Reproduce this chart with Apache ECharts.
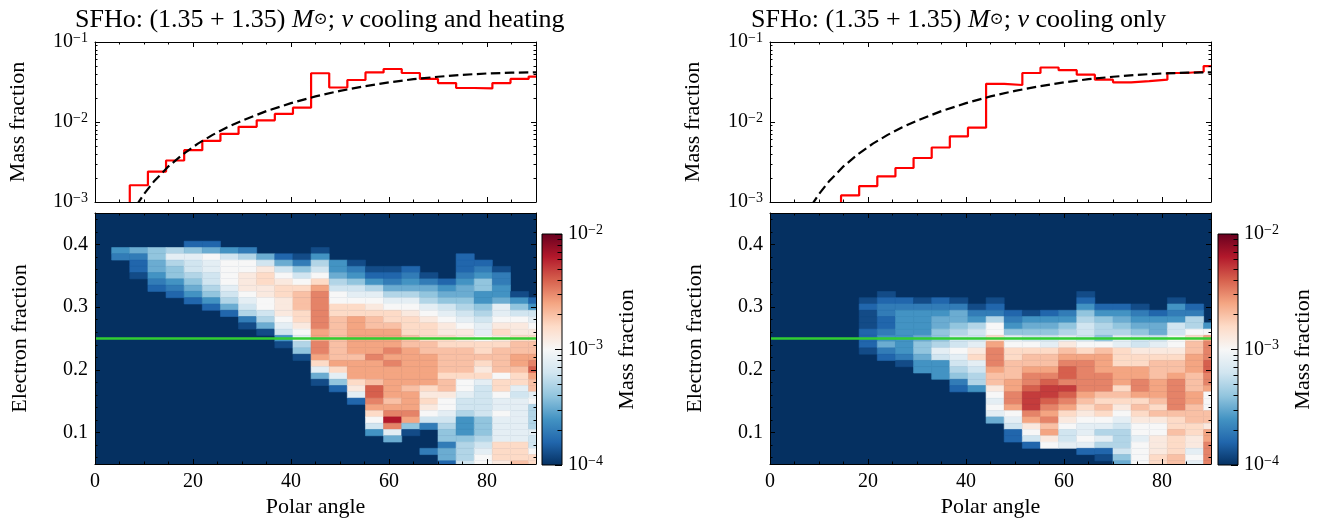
<!DOCTYPE html>
<html><head><meta charset="utf-8">
<script src="https://cdn.jsdelivr.net/npm/echarts@6.0.0/dist/echarts.min.js"></script>
<style>html,body{margin:0;padding:0;background:#fff}#c{width:1332px;height:523px}</style>
</head><body><div id="c"></div>
<script>
// ---------------- data ----------------
// polar-angle bin edges (deg), shared by the histograms and the 2D maps
const polarEdges = [0, 3.4, 7.1, 10.8, 14.5, 18.2, 21.9, 25.6, 29.3, 33.0, 36.7, 40.4, 44.1, 47.8, 51.5, 55.2, 58.9, 62.6, 66.3, 70.0, 73.7, 77.4, 81.1, 84.8, 88.5, 90];
// electron-fraction bin edges, top (0.455) to bottom (0.045)
const yeEdges = [0.455, 0.445, 0.435, 0.425, 0.415, 0.405, 0.395, 0.385, 0.375, 0.365, 0.355, 0.345, 0.335, 0.325, 0.315, 0.305, 0.295, 0.285, 0.275, 0.265, 0.255, 0.245, 0.235, 0.225, 0.215, 0.205, 0.195, 0.185, 0.175, 0.165, 0.155, 0.145, 0.135, 0.125, 0.115, 0.105, 0.095, 0.085, 0.075, 0.065, 0.055, 0.045];
// mass fraction per polar bin (step histograms)
const histHeating = [null, 7e-4, 1.62e-3, 2.4e-3, 3.3e-3, 4.45e-3, 5.8e-3, 7.1e-3, 8.7e-3, 1.05e-2, 1.26e-2, 1.51e-2, 4.07e-2, 2.7e-2, 3.35e-2, 4.17e-2, 4.6e-2, 4.1e-2, 3.45e-2, 3.07e-2, 2.66e-2, 2.63e-2, 3.07e-2, 3.45e-2, 3.7e-2];
const histCooling = [null, null, null, 6e-4, 1.21e-3, 1.58e-3, 2.09e-3, 2.66e-3, 3.55e-3, 4.8e-3, 6.6e-3, 8.5e-3, 3.0e-2, 2.9e-2, 4.1e-2, 4.8e-2, 4.45e-2, 3.9e-2, 3.38e-2, 3.13e-2, 3.25e-2, 3.38e-2, 4.1e-2, 4.25e-2, 5.0e-2];
// dashed reference curve
const refAngles = [8.5, 9, 10, 12, 15, 18, 21, 24, 27, 30, 35, 40, 45, 50, 55, 60, 65, 70, 75, 80, 85, 90];
const refMassFraction = [9.1e-4, 1.02e-3, 1.26e-3, 1.80e-3, 2.79e-3, 3.98e-3, 5.36e-3, 6.90e-3, 8.59e-3, 1.04e-2, 1.37e-2, 1.72e-2, 2.09e-2, 2.45e-2, 2.80e-2, 3.13e-2, 3.43e-2, 3.68e-2, 3.89e-2, 4.04e-2, 4.14e-2, 4.17e-2];
const refYe = 0.25;
// 2D mass-fraction maps: one string per polar bin, one char per Ye bin (Ye 0.45 first -> 0.05 last,
// spaces only group the chars by ten). Char index L in levelCodes: log10(mass fraction) = -4 + 0.1*L ; '0' = below 1e-4
const levelCodes = "0123456789ABCDEFGHIJK";
const mapHeating = [
 "0000000000 0000000000 0000000000 0000000000 0",
 "0000004300 0000000000 0000000000 0000000000 0",
 "0000005322 1000000000 0000000000 0000000000 0",
 "0000006655 4320000000 0000000000 0000000000 0",
 "0000007976 6432000000 0000000000 0000000000 0",
 "0000026988 7654200000 0000000000 0000000000 0",
 "0000025A99 8876420000 0000000000 0000000000 0",
 "00000048AA AA98752000 0000000000 0000000000 0",
 "00000037AA BBBA987310 0000000000 0000000000 0",
 "000000058B CCBBAA8751 0000000000 0000000000 0",
 "0000000258 ABCCBBBA98 4100000000 0000000000 0",
 "0000000136 8ACDDDCCBA 9761000000 0000000000 0",
 "0000001478 ACEFFFFFFE EFFEC95100 0000000000 0",
 "0000000044 578AACCDDD DDDDEC9620 0000000000 0",
 "0000000013 4689ACCEEE EEEDEEECB9 2000000000 0",
 "0000000001 2479ABCDDE EEEFEEEDGG FECA840000 0",
 "0000000001 23579ACCDE EEFEFEEEEE DEFIF95000 0",
 "0000000002 34579ABCCC DDEEEEEEDE EEFE610000 0",
 "0000000000 135679ABCC CDDEEEEECB CBA8300030 0",
 "0000000000 0245689ABB CCDDDDCDDB AA98766355 2",
 "0000000222 34556789AB BCDDDDCAA9 8874446777 8",
 "0000000023 4664467899 ACCDCBC988 888666789A A",
 "0000000001 3344599ABC BCDDDDACCA 99A9999CCC B",
 "0000000000 0001468ABB CDDEEDCC98 9999999CCC D",
 "0000000000 00002489AB CDDEFGEDD9 A7777988AC C"
];
const mapCooling = [
 "0000000000 0000000000 0000000000 0000000000 0",
 "0000000000 0000000000 0000000000 0000000000 0",
 "0000000000 0000000000 0000000000 0000000000 0",
 "0000000000 0000000000 0000000000 0000000000 0",
 "0000000000 0000000000 0000000000 0000000000 0",
 "0000000000 0000121112 2210000000 0000000000 0",
 "0000000000 0001233223 4532000000 0000000000 0",
 "0000000000 0000234444 4443100000 0000000000 0",
 "0000000000 0000134444 5665440000 0000000000 0",
 "0000000000 0000234556 6798444000 0000000000 0",
 "0000000000 0000135567 88A9876320 0000000000 0",
 "0000000000 0000013478 89BC987740 0000000000 0",
 "0000000000 00001237AA CEFFFEDDBA 9A95000000 0",
 "0000000000 0000002346 9ACCDDDEEF FEA9822000 0",
 "0000000000 0000001456 8ACDDEFFGH HHFEBA8200 0",
 "0000000000 0000002456 89CDDEFGHH GFEFDEBA00 0",
 "0000000000 0000003467 9BDEFGGFHG FECBA88900 0",
 "0000000000 0001246788 8ACEFFFFFE DCBA99A920 0",
 "0000000000 0000024677 6ADEEEFFFD CDCA979721 0",
 "0000000000 0000024567 99CCCEEECD CBA9877786 5",
 "0000000000 0000013456 88BCCEEFFE CDCBAA9AAA A",
 "0000000000 0000002455 89BCDDDEEE DCDBAABBBC C",
 "0000000000 0000143488 AABCDDEFFF FFDCCDCCCD D",
 "0000000000 000002377A CDDEEEDDDE EDDDCCBB9A 9",
 "0000000000 000000004A EFFFGGFFEA AADDBEEFFF F"
];
// axis ticks
const angleMajorTicks = [0, 20, 40, 60, 80];
const angleMinorTicks = [5, 10, 15, 25, 30, 35, 45, 50, 55, 65, 70, 75, 85];
const yeRange = [0.05, 0.45];
const yeMajorTicks = [0.1, 0.2, 0.3, 0.4];
const yeMinorTicks = [0.06, 0.08, 0.12, 0.14, 0.16, 0.18, 0.22, 0.24, 0.26, 0.28, 0.32, 0.34, 0.36, 0.38, 0.42, 0.44];
const massRange = [1e-3, 1e-1];
const massMinorTicks = [2e-3, 3e-3, 4e-3, 5e-3, 6e-3, 7e-3, 8e-3, 9e-3, 2e-2, 3e-2, 4e-2, 5e-2, 6e-2, 7e-2, 8e-2, 9e-2];
const cbarRange = [1e-4, 1e-2];
const cbarMajorTicks = [1e-4, 1e-3, 1e-2];
const cbarMinorTicks = [2e-4, 3e-4, 4e-4, 5e-4, 6e-4, 7e-4, 8e-4, 9e-4, 2e-3, 3e-3, 4e-3, 5e-3, 6e-3, 7e-3, 8e-3, 9e-3];
const rdbuR = ['#053061', '#2166ac', '#4393c3', '#92c5de', '#d1e5f0', '#f7f7f7', '#fddbc7', '#f4a582', '#d6604d', '#b2182b', '#67001f'];
const titles = ['cooling and heating', 'cooling only'];

// ---------------- chart ----------------
const FONT = "'Liberation Serif', 'DejaVu Serif', serif";
const BLACK = '#000';
const TICKFS = 20, NAMEFS = 22;
const POW_RICH = {
  b: {fontSize: TICKFS, lineHeight: 22, fontFamily: FONT, color: BLACK},
  s: {fontSize: 14, lineHeight: 13, verticalAlign: 'top', fontFamily: FONT, color: BLACK}
};
const powLabel = v => '{b|10}{s|\u2212' + Math.abs(Math.round(Math.log10(v))) + '}';
const lg = Math.log10;

const gridBoxes = [
  {left: 95, top: 42, width: 441, height: 160},
  {left: 95, top: 213, width: 441, height: 251},
  {left: 542, top: 234, width: 20, height: 231},
  {left: 770, top: 42, width: 441, height: 160},
  {left: 770, top: 213, width: 441, height: 251},
  {left: 1218, top: 234, width: 20, height: 231}
];
const grid = gridBoxes.map((g, i) => Object.assign({}, g, (i === 1 || i === 4) ?
  {show: true, backgroundColor: rdbuR[0], borderWidth: 0} : {show: false}));

const xAxis = [], yAxis = [];
function tick(values, len) {
  const t = {show: true, inside: true, length: len, lineStyle: {color: BLACK, width: 1}};
  if (values) t.customValues = values;
  return t;
}
function ax(list, o) { list.push(Object.assign({z: 10, splitLine: {show: false}, axisLine: {show: false, onZero: false}, axisLabel: {show: false}}, o)); return list.length - 1; }
const frameLine = {show: true, onZero: false, lineStyle: {color: BLACK, width: 1}};
const nameStyle = {color: BLACK, fontFamily: FONT, fontSize: NAMEFS};

function angleAxes(gi, withLabels) {
  const lo = polarEdges[0], hi = polarEdges[polarEdges.length - 1];
  const main = ax(xAxis, {type: 'value', gridIndex: gi, position: 'bottom', min: lo, max: hi,
    axisLine: frameLine, axisTick: tick(angleMajorTicks, 5),
    axisLabel: withLabels ? {show: true, customValues: angleMajorTicks, margin: 8, color: BLACK, fontFamily: FONT, fontSize: TICKFS} : {show: false},
    name: withLabels ? 'Polar angle' : '', nameLocation: 'middle', nameGap: 32, nameTextStyle: nameStyle});
  ax(xAxis, {type: 'value', gridIndex: gi, position: 'bottom', min: lo, max: hi, axisTick: tick(angleMinorTicks, 2.5)});
  ax(xAxis, {type: 'value', gridIndex: gi, position: 'top', min: lo, max: hi, axisLine: frameLine, axisTick: tick(angleMajorTicks, 5)});
  ax(xAxis, {type: 'value', gridIndex: gi, position: 'top', min: lo, max: hi, axisTick: tick(angleMinorTicks, 2.5)});
  return main;
}
function massAxes(gi) {
  const main = ax(yAxis, {type: 'log', logBase: 10, gridIndex: gi, position: 'left', min: massRange[0], max: massRange[1],
    axisLine: frameLine, axisTick: tick(null, 5),
    axisLabel: {show: true, margin: 7, showMinLabel: true, showMaxLabel: true, formatter: powLabel, rich: POW_RICH},
    name: 'Mass fraction', nameLocation: 'middle', nameRotate: 90, nameGap: 66, nameTextStyle: nameStyle});
  ax(yAxis, {type: 'value', gridIndex: gi, position: 'left', min: lg(massRange[0]), max: lg(massRange[1]), axisTick: tick(massMinorTicks.map(lg), 2.5)});
  ax(yAxis, {type: 'log', logBase: 10, gridIndex: gi, position: 'right', min: massRange[0], max: massRange[1], axisLine: frameLine, axisTick: tick(null, 5)});
  ax(yAxis, {type: 'value', gridIndex: gi, position: 'right', min: lg(massRange[0]), max: lg(massRange[1]), axisTick: tick(massMinorTicks.map(lg), 2.5)});
  return main;
}
function yeAxes(gi) {
  const main = ax(yAxis, {type: 'value', gridIndex: gi, position: 'left', min: yeRange[0], max: yeRange[1],
    axisLine: frameLine, axisTick: tick(yeMajorTicks, 5),
    axisLabel: {show: true, customValues: yeMajorTicks, margin: 7, formatter: v => v.toFixed(1), color: BLACK, fontFamily: FONT, fontSize: TICKFS},
    name: 'Electron fraction', nameLocation: 'middle', nameRotate: 90, nameGap: 64, nameTextStyle: nameStyle});
  ax(yAxis, {type: 'value', gridIndex: gi, position: 'left', min: yeRange[0], max: yeRange[1], axisTick: tick(yeMinorTicks, 2.5)});
  ax(yAxis, {type: 'value', gridIndex: gi, position: 'right', min: yeRange[0], max: yeRange[1], axisLine: frameLine, axisTick: tick(yeMajorTicks, 5)});
  ax(yAxis, {type: 'value', gridIndex: gi, position: 'right', min: yeRange[0], max: yeRange[1], axisTick: tick(yeMinorTicks, 2.5)});
  return main;
}
function cbarAxes(gi) {
  const x = ax(xAxis, {type: 'value', gridIndex: gi, min: 0, max: 1, show: false});
  const y = ax(yAxis, {type: 'value', gridIndex: gi, position: 'right', min: lg(cbarRange[0]), max: lg(cbarRange[1]),
    axisTick: tick(cbarMajorTicks.map(lg), 7),
    axisLabel: {show: true, customValues: cbarMajorTicks.map(lg), margin: 6, formatter: v => powLabel(Math.pow(10, v)), rich: POW_RICH},
    name: 'Mass fraction', nameLocation: 'middle', nameRotate: 90, nameGap: 54, nameTextStyle: nameStyle});
  ax(yAxis, {type: 'value', gridIndex: gi, position: 'right', min: lg(cbarRange[0]), max: lg(cbarRange[1]), axisTick: tick(cbarMinorTicks.map(lg), 4.5)});
  return [x, y];
}

function mapCells(cols) {
  const out = [];
  cols.forEach((raw, c) => {
    const s = raw.replace(/ /g, '');
    for (let i = 0; i < s.length; i++) {
      const L = levelCodes.indexOf(s[i]);
      if (L > 0) out.push([polarEdges[c], polarEdges[c + 1], yeEdges[i + 1], yeEdges[i], -4 + 0.1 * L]);
    }
  });
  return out;
}
function renderCell(params, api) {
  const a = api.coord([api.value(0), api.value(3)]);
  const b = api.coord([api.value(1), api.value(2)]);
  const cs = params.coordSys;
  const r = echarts.graphic.clipRectByRect({x: a[0], y: a[1], width: b[0] - a[0], height: b[1] - a[1]}, {x: cs.x, y: cs.y, width: cs.width, height: cs.height});
  if (!r) return;
  const col = api.visual('color');
  return {type: 'rect', shape: r, style: {fill: col, stroke: col, lineWidth: 0.6}};
}
function renderBar(params, api) {
  const a = api.coord([api.value(0), api.value(3)]);
  const b = api.coord([api.value(1), api.value(2)]);
  return {type: 'rect', shape: {x: a[0], y: a[1], width: b[0] - a[0], height: b[1] - a[1]},
    style: {fill: new echarts.graphic.LinearGradient(0, 1, 0, 0, rdbuR.map((c, i) => ({offset: i / (rdbuR.length - 1), color: c}))), stroke: BLACK, lineWidth: 1}};
}
function stepData(hist) {
  return polarEdges.map((e, i) => [e, hist[Math.min(i, hist.length - 1)]]);
}

const panels = [
  {top: 0, heat: 1, cbar: 2, hist: histHeating, map: mapHeating},
  {top: 3, heat: 4, cbar: 5, hist: histCooling, map: mapCooling}
];
const heatSeries = [], otherSeries = [];
panels.forEach(p => {
  const xt = angleAxes(p.top, false), yt = massAxes(p.top);
  const xh = angleAxes(p.heat, true), yh = yeAxes(p.heat);
  const cb = cbarAxes(p.cbar);
  heatSeries.push({type: 'custom', xAxisIndex: xh, yAxisIndex: yh, renderItem: renderCell,
    dimensions: ['x0', 'x1', 'y0', 'y1', 'logX'], encode: {x: [0, 1], y: [2, 3]}, data: mapCells(p.map), z: 2});
  otherSeries.push({type: 'line', xAxisIndex: xh, yAxisIndex: yh, symbol: 'none', z: 4,
    data: [[polarEdges[0], refYe], [polarEdges[polarEdges.length - 1], refYe]], lineStyle: {color: '#32cd32', width: 2.6}});
  otherSeries.push({type: 'line', xAxisIndex: xt, yAxisIndex: yt, symbol: 'none', step: 'end', z: 3, clip: true,
    data: stepData(p.hist), lineStyle: {color: '#ff0000', width: 2.2}});
  otherSeries.push({type: 'line', xAxisIndex: xt, yAxisIndex: yt, symbol: 'none', z: 4, clip: true,
    data: refAngles.map((a, i) => [a, refMassFraction[i]]), lineStyle: {color: BLACK, width: 2.2, type: [9.5, 4.5]}});
  otherSeries.push({type: 'custom', xAxisIndex: cb[0], yAxisIndex: cb[1], renderItem: renderBar, z: 2,
    data: [[0, 1, lg(cbarRange[0]), lg(cbarRange[1])]]});
});

const titleRich = {
  n: {fontSize: 26, fontFamily: FONT, fontWeight: 'normal', color: BLACK, lineHeight: 30},
  i: {fontSize: 26, fontFamily: FONT, fontStyle: 'italic', fontWeight: 'normal', color: BLACK, lineHeight: 30},
  sub: {fontSize: 17, fontFamily: "'DejaVu Serif', serif", fontWeight: 'normal', color: BLACK, lineHeight: 9}
};
const title = titles.map((t, k) => ({
  text: '{n|SFHo: (1.35 + 1.35) }{i|M}{sub|\u2299}{n|; }{i|\u03bd}{n| ' + t + '}',
  left: k === 0 ? 70 : 746, top: 0, textStyle: {fontWeight: 'normal', rich: titleRich}
}));

const chart = echarts.init(document.getElementById('c'), null, {renderer: 'canvas'});
chart.setOption({
  animation: false,
  backgroundColor: '#fff',
  title, grid, xAxis, yAxis,
  visualMap: [{type: 'continuous', show: false, min: lg(cbarRange[0]), max: lg(cbarRange[1]), dimension: 4, seriesIndex: [0, 1], inRange: {color: rdbuR}}],
  series: heatSeries.concat(otherSeries)
});
</script></body></html>
